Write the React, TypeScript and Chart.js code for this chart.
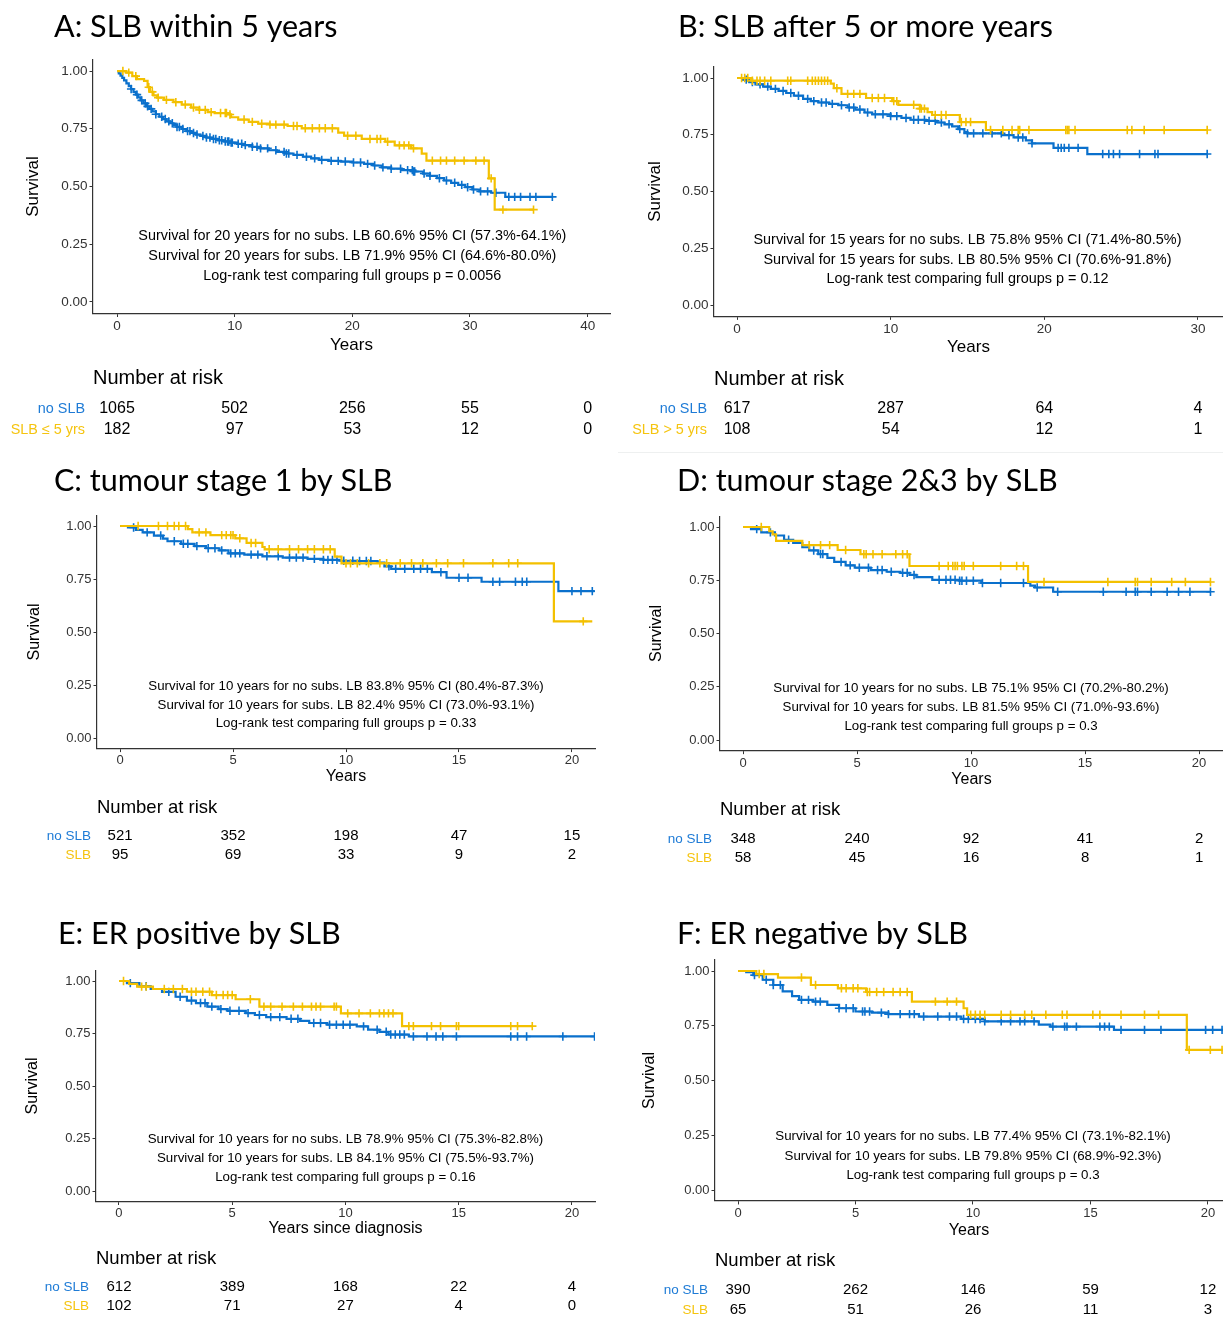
import React, { useEffect, useRef } from 'react';
import { Chart, registerables } from 'chart.js';
Chart.register(...registerables);

const BLUE = '#0A70CC';
const YELLOW = '#F3C000';
const BLUE_TXT = '#1E7BD6';
const YELLOW_TXT = '#F5C40F';

// ---------- Panel A ----------
const aTitle = 'A: SLB within 5 years';
const aTicks = [0, 10, 20, 30, 40];
const aNoTime = [0, 0.15, 0.3, 0.45, 0.6, 0.8, 1.0, 1.2, 1.4, 1.6, 1.8, 2.0, 2.25, 2.5, 2.75, 3.0, 3.3, 3.6, 3.9, 4.2, 4.5, 4.8, 5.1, 5.5, 5.9, 6.3, 6.7, 7.1, 7.6, 8.1, 8.6, 9.1, 9.6, 10.2, 10.8, 11.5, 12.2, 12.9, 13.6, 14.3, 15.0, 15.8, 16.5, 17.2, 18.0, 19.0, 20.0, 21.0, 21.8, 22.5, 23.3, 24.2, 25.2, 26.0, 26.6, 27.2, 27.8, 28.4, 29.0, 29.6, 30.2, 30.8, 31.8, 33.0, 37.0];
const aNoSurv = [1, 0.99, 0.98, 0.97, 0.96, 0.947, 0.935, 0.922, 0.91, 0.898, 0.886, 0.873, 0.86, 0.847, 0.836, 0.825, 0.813, 0.802, 0.792, 0.782, 0.774, 0.766, 0.758, 0.749, 0.74, 0.732, 0.725, 0.719, 0.712, 0.706, 0.7, 0.695, 0.69, 0.685, 0.679, 0.672, 0.665, 0.657, 0.65, 0.643, 0.637, 0.629, 0.622, 0.615, 0.611, 0.608, 0.604, 0.598, 0.591, 0.583, 0.577, 0.571, 0.565, 0.556, 0.546, 0.536, 0.526, 0.516, 0.507, 0.497, 0.487, 0.479, 0.473, 0.455, 0.455];
const aNoCens = [1.2, 1.7, 2.1, 2.4, 2.6, 2.9, 3.3, 3.8, 4.1, 4.4, 4.7, 5.1, 5.3, 5.6, 6.0, 6.2, 6.5, 6.8, 7.3, 7.6, 7.9, 8.2, 8.4, 8.7, 8.9, 9.2, 9.4, 9.5, 9.7, 9.8, 10.3, 10.6, 10.9, 11.5, 11.9, 12.2, 12.8, 13.5, 14.2, 14.4, 14.6, 15.3, 16.1, 16.8, 17.4, 18.2, 18.8, 19.4, 20.1, 20.7, 21.3, 21.9, 22.6, 23.3, 24.1, 24.7, 25.1, 25.2, 25.3, 26.1, 26.6, 27.4, 28.0, 28.7, 29.3, 29.8, 30.3, 30.9, 31.5, 32.2, 33.3, 33.8, 34.3, 35.1, 35.6, 37.0];
const aSlbTime = [0, 0.8, 1.3, 1.7, 2.3, 2.6, 2.8, 3.1, 3.4, 4.0, 4.8, 5.5, 6.3, 7.0, 7.7, 8.3, 9.4, 9.7, 10.3, 11.2, 12.0, 13.0, 14.5, 15.7, 18.8, 19.3, 20.8, 22.8, 23.6, 25.0, 25.9, 26.3, 31.6, 32.1, 35.4];
const aSlbSurv = [1, 0.993, 0.978, 0.965, 0.957, 0.93, 0.91, 0.895, 0.885, 0.875, 0.865, 0.855, 0.842, 0.832, 0.822, 0.818, 0.812, 0.8, 0.79, 0.78, 0.772, 0.768, 0.762, 0.752, 0.733, 0.72, 0.706, 0.694, 0.678, 0.665, 0.642, 0.612, 0.535, 0.4, 0.4];
const aSlbCens = [0.5, 1.0, 1.6, 2.7, 3.0, 3.5, 4.2, 5.0, 5.8, 6.5, 7.0, 7.5, 8.0, 8.8, 9.2, 9.3, 9.6, 10.8, 11.5, 12.3, 13.0, 13.5, 14.2, 15.0, 15.3, 16.0, 16.6, 17.2, 17.7, 18.3, 19.6, 20.3, 21.5, 22.1, 22.4, 23.0, 24.0, 24.4, 24.8, 25.2, 26.8, 27.5, 28.0, 28.7, 29.5, 30.5, 31.2, 31.8, 32.8, 35.4];
const aRiskNo = [1065, 502, 256, 55, 0];
const aRiskSlb = [182, 97, 53, 12, 0];
const aLabels = ['no SLB', 'SLB ≤ 5 yrs'];
const aNotes = [
  'Survival for 20 years for no subs. LB 60.6% 95% CI (57.3%-64.1%)',
  'Survival for 20 years for subs. LB 71.9% 95% CI (64.6%-80.0%)',
  'Log-rank test comparing full groups p = 0.0056',
];

// ---------- Panel B ----------
const bTitle = 'B: SLB after 5 or more years';
const bTicks = [0, 10, 20, 30];
const bNoTime = [0, 0.4, 0.8, 1.2, 1.7, 2.2, 2.7, 3.2, 3.7, 4.3, 4.8, 5.3, 6.0, 6.6, 7.2, 7.7, 8.3, 8.8, 10.0, 10.7, 11.3, 12.3, 13.0, 13.5, 14.0, 14.4, 14.8, 15.0, 17.3, 18.0, 18.8, 19.2, 20.6, 22.8, 30.6];
const bNoSurv = [1, 0.993, 0.982, 0.972, 0.962, 0.952, 0.943, 0.934, 0.922, 0.908, 0.898, 0.892, 0.886, 0.88, 0.87, 0.861, 0.848, 0.84, 0.832, 0.824, 0.816, 0.811, 0.804, 0.796, 0.787, 0.775, 0.762, 0.756, 0.748, 0.738, 0.725, 0.712, 0.692, 0.665, 0.665];
const bNoCens = [0.6, 1.0, 1.5, 2.0, 2.5, 3.0, 3.5, 4.0, 4.6, 5.0, 5.5, 5.8, 6.2, 6.8, 7.3, 7.6, 8.0, 8.5, 9.0, 9.5, 10.0, 10.4, 11.0, 11.5, 11.8, 12.2, 12.5, 12.9, 13.3, 13.8, 14.5, 15.0, 15.4, 16.0, 16.6, 17.2, 17.7, 18.3, 18.6, 19.2, 20.9, 21.1, 21.3, 21.6, 22.2, 23.8, 24.2, 24.5, 24.9, 26.2, 27.2, 27.4, 30.6];
const bSlbTime = [0, 0.9, 6.1, 6.3, 6.8, 8.4, 10.1, 10.5, 11.9, 12.4, 12.7, 14.5, 16.2, 30.6];
const bSlbSurv = [1, 0.988, 0.975, 0.955, 0.93, 0.912, 0.898, 0.882, 0.865, 0.85, 0.837, 0.806, 0.771, 0.771];
const bSlbCens = [0.3, 0.5, 0.7, 1.0, 1.3, 1.5, 1.8, 2.2, 3.3, 3.5, 4.6, 4.9, 5.1, 5.3, 5.5, 5.7, 5.9, 6.5, 7.2, 7.6, 8.0, 8.8, 9.2, 9.6, 10.2, 10.4, 11.5, 11.9, 12.0, 12.2, 12.9, 13.3, 13.6, 14.6, 14.9, 15.2, 16.5, 17.3, 17.9, 18.3, 18.4, 19.0, 21.4, 21.5, 21.6, 22.0, 25.4, 25.7, 26.5, 27.8, 30.6];
const bRiskNo = [617, 287, 64, 4];
const bRiskSlb = [108, 54, 12, 1];
const bLabels = ['no SLB', 'SLB > 5 yrs'];
const bNotes = [
  'Survival for 15 years for no subs. LB 75.8% 95% CI (71.4%-80.5%)',
  'Survival for 15 years for subs. LB 80.5% 95% CI (70.6%-91.8%)',
  'Log-rank test comparing full groups p = 0.12',
];

// ---------- Panel C ----------
const cTitle = 'C: tumour stage 1 by SLB';
const cTicks = [0, 5, 10, 15, 20];
const cNoTime = [0, 0.35, 0.7, 1.0, 1.5, 1.9, 2.1, 2.7, 3.3, 3.8, 4.4, 4.8, 5.5, 6.3, 7.2, 8.3, 9.0, 9.7, 10.5, 11.4, 11.7, 12.0, 13.8, 14.45, 16.0, 19.4, 21.0];
const cNoSurv = [1, 0.993, 0.982, 0.97, 0.955, 0.94, 0.928, 0.916, 0.905, 0.895, 0.885, 0.871, 0.865, 0.857, 0.851, 0.845, 0.84, 0.836, 0.835, 0.827, 0.81, 0.798, 0.782, 0.756, 0.737, 0.693, 0.693];
const cNoCens = [0.6, 1.2, 1.8, 2.4, 2.8, 3.0, 3.4, 3.9, 4.2, 4.5, 4.9, 5.1, 5.3, 5.8, 6.1, 6.5, 7.0, 7.5, 7.8, 8.1, 8.6, 9.0, 9.2, 9.4, 9.6, 9.9, 10.3, 10.6, 10.9, 11.1, 11.9, 12.2, 12.6, 13.0, 13.3, 13.6, 14.2, 15.0, 15.4, 16.5, 16.8, 17.5, 17.8, 18.0, 20.0, 20.4, 20.9];
const cSlbTime = [0, 3.0, 3.2, 4.0, 5.1, 5.6, 6.3, 6.4, 9.5, 9.8, 19.2, 20.9];
const cSlbSurv = [1, 0.985, 0.97, 0.957, 0.942, 0.92, 0.901, 0.89, 0.856, 0.824, 0.55, 0.55];
const cSlbCens = [0.8, 1.7, 2.1, 2.4, 2.6, 2.9, 3.5, 3.8, 4.5, 4.7, 4.9, 5.0, 5.3, 5.8, 6.0, 6.6, 7.0, 7.5, 7.9, 8.3, 8.6, 9.0, 9.3, 10.0, 10.2, 10.5, 11.0, 11.5, 11.8, 12.4, 12.9, 13.4, 14.0, 14.5, 15.2, 16.5, 17.2, 17.6, 20.5];
const cRiskNo = [521, 352, 198, 47, 15];
const cRiskSlb = [95, 69, 33, 9, 2];
const cLabels = ['no SLB', 'SLB'];
const cNotes = [
  'Survival for 10 years for no subs. LB 83.8% 95% CI (80.4%-87.3%)',
  'Survival for 10 years for subs. LB 82.4% 95% CI (73.0%-93.1%)',
  'Log-rank test comparing full groups p = 0.33',
];

// ---------- Panel D ----------
const dTitle = 'D: tumour stage 2&3 by SLB';
const dTicks = [0, 5, 10, 15, 20];
const dNoTime = [0, 0.35, 0.8, 1.4, 1.8, 2.2, 2.6, 2.9, 3.3, 3.7, 4.0, 4.5, 4.9, 5.6, 6.3, 6.9, 7.3, 7.6, 8.3, 9.5, 10.45, 12.6, 12.8, 13.6, 20.5];
const dNoSurv = [1, 0.99, 0.975, 0.96, 0.94, 0.925, 0.905, 0.89, 0.873, 0.855, 0.836, 0.82, 0.809, 0.798, 0.79, 0.785, 0.775, 0.765, 0.752, 0.748, 0.737, 0.725, 0.716, 0.696, 0.696];
const dNoCens = [0.6, 1.2, 2.0, 3.1, 3.4, 3.5, 4.3, 4.7, 5.1, 5.5, 5.9, 6.1, 6.5, 7.0, 7.2, 7.5, 8.6, 8.9, 9.1, 9.3, 9.5, 9.6, 9.8, 10.1, 10.5, 11.3, 12.3, 12.9, 13.8, 15.8, 16.8, 17.2, 17.3, 17.9, 18.6, 19.1, 19.6, 20.5];
const dSlbTime = [0, 1.15, 1.3, 1.45, 2.6, 4.15, 5.15, 7.3, 12.5, 20.5];
const dSlbSurv = [1, 0.98, 0.965, 0.935, 0.915, 0.892, 0.872, 0.817, 0.742, 0.742];
const dSlbCens = [0.8, 2.9, 3.4, 3.8, 4.5, 5.3, 5.4, 5.7, 6.1, 6.7, 7.0, 7.2, 8.6, 9.0, 9.2, 9.3, 9.4, 9.6, 9.7, 10.1, 11.3, 12.0, 12.3, 13.2, 16.0, 17.2, 17.3, 17.9, 18.8, 19.4, 20.5];
const dRiskNo = [348, 240, 92, 41, 2];
const dRiskSlb = [58, 45, 16, 8, 1];
const dLabels = ['no SLB', 'SLB'];
const dNotes = [
  'Survival for 10 years for no subs. LB 75.1% 95% CI (70.2%-80.2%)',
  'Survival for 10 years for subs. LB 81.5% 95% CI (71.0%-93.6%)',
  'Log-rank test comparing full groups p = 0.3',
];

// ---------- Panel E ----------
const eTitle = 'E: ER positive by SLB';
const eTicks = [0, 5, 10, 15, 20];
const eNoTime = [0, 0.35, 0.9, 1.4, 1.9, 2.5, 3.0, 3.4, 3.9, 4.4, 4.8, 5.6, 6.0, 6.5, 7.4, 8.0, 8.4, 9.2, 10.5, 11.0, 11.5, 11.9, 12.8, 21.0];
const eNoSurv = [1, 0.99, 0.975, 0.962, 0.948, 0.925, 0.907, 0.895, 0.878, 0.866, 0.858, 0.847, 0.838, 0.828, 0.82, 0.81, 0.8, 0.792, 0.784, 0.768, 0.758, 0.745, 0.736, 0.736];
const eNoCens = [0.5, 1.2, 2.2, 2.7, 3.2, 3.6, 3.8, 4.1, 4.5, 4.9, 5.3, 5.7, 6.2, 6.7, 7.1, 7.6, 7.9, 8.6, 8.9, 9.3, 9.6, 9.9, 10.2, 10.8, 11.4, 11.8, 12.0, 12.2, 12.4, 12.6, 13.0, 13.6, 14.0, 14.3, 14.9, 17.3, 17.6, 18.0, 19.6, 21.0];
const eSlbTime = [0, 0.45, 0.8, 1.5, 3.0, 4.1, 5.15, 6.2, 9.8, 12.5, 18.25];
const eSlbSurv = [1, 0.986, 0.973, 0.962, 0.949, 0.933, 0.913, 0.878, 0.846, 0.785, 0.785];
const eSlbCens = [0.2, 1.0, 1.2, 2.0, 2.4, 2.8, 3.2, 3.4, 3.7, 4.0, 4.3, 4.6, 4.8, 5.0, 5.8, 6.4, 6.7, 7.2, 7.7, 8.1, 8.5, 8.7, 8.9, 9.5, 9.6, 10.1, 10.6, 11.1, 11.5, 11.7, 11.9, 12.1, 12.8, 13.0, 13.8, 14.2, 14.9, 15.0, 17.3, 17.6, 18.25];
const eRiskNo = [612, 389, 168, 22, 4];
const eRiskSlb = [102, 71, 27, 4, 0];
const eLabels = ['no SLB', 'SLB'];
const eNotes = [
  'Survival for 10 years for no subs. LB 78.9% 95% CI (75.3%-82.8%)',
  'Survival for 10 years for subs. LB 84.1% 95% CI (75.5%-93.7%)',
  'Log-rank test comparing full groups p = 0.16',
];

// ---------- Panel F ----------
const fTitle = 'F: ER negative by SLB';
const fTicks = [0, 5, 10, 15, 20];
const fNoTime = [0, 0.35, 0.65, 1.05, 1.5, 1.9, 2.3, 2.6, 3.2, 3.8, 4.3, 5.0, 5.7, 6.4, 7.7, 9.5, 10.5, 12.8, 13.3, 16.0, 21.0];
const fNoSurv = [1, 0.995, 0.981, 0.96, 0.936, 0.907, 0.885, 0.868, 0.86, 0.845, 0.83, 0.815, 0.81, 0.803, 0.792, 0.781, 0.77, 0.755, 0.746, 0.731, 0.731];
const fNoCens = [0.7, 1.2, 1.5, 1.8, 2.7, 3.0, 3.3, 3.5, 4.3, 4.6, 4.9, 5.3, 5.4, 5.6, 6.1, 6.4, 6.9, 7.3, 7.5, 7.9, 8.5, 9.0, 9.3, 9.6, 9.8, 10.1, 10.3, 10.5, 11.2, 11.6, 12.0, 12.2, 12.6, 13.4, 13.9, 14.0, 14.4, 15.4, 15.6, 15.8, 16.3, 17.3, 18.0, 19.1, 19.9, 20.2, 20.6];
const fSlbTime = [0, 0.78, 1.7, 3.1, 4.25, 5.45, 7.4, 9.6, 9.75, 19.1, 21.0];
const fSlbSurv = [1, 0.986, 0.97, 0.936, 0.921, 0.904, 0.86, 0.83, 0.8, 0.64, 0.64];
const fSlbCens = [0.9, 1.1, 2.7, 3.3, 4.4, 4.6, 4.9, 5.1, 5.5, 5.6, 5.9, 6.2, 6.6, 6.9, 7.2, 8.4, 8.9, 9.3, 9.9, 10.1, 10.3, 10.5, 11.2, 11.6, 12.2, 12.5, 13.1, 13.8, 14.0, 15.1, 15.4, 16.3, 17.3, 17.9, 19.2, 20.1, 20.6];
const fRiskNo = [390, 262, 146, 59, 12];
const fRiskSlb = [65, 51, 26, 11, 3];
const fLabels = ['no SLB', 'SLB'];
const fNotes = [
  'Survival for 10 years for no subs. LB 77.4% 95% CI (73.1%-82.1%)',
  'Survival for 10 years for subs. LB 79.8% 95% CI (68.9%-92.3%)',
  'Log-rank test comparing full groups p = 0.3',
];

// ---------- layout (positions / sizes) ----------
const BIG = { note: 14.4, axis: 17, nar: 20, num: 16, lab: 14.4, tick: 13.5 };
const SMALL = { note: 13.3, axis: 16, nar: 18.5, num: 15, lab: 13.5, tick: 13 };

const PANELS = [
  { title: aTitle, xTitle: 'Years', ticks: aTicks, no: [aNoTime, aNoSurv, aNoCens], slb: [aSlbTime, aSlbSurv, aSlbCens], risk: [aRiskNo, aRiskSlb], labels: aLabels, notes: aNotes,
    box: { left: 93, right: 610, top: 59.5, bottom: 313.5, xMin: -2.04, xMax: 41.9, titleX: 54, titleY: 37, survX: 33, xTitleY: 345, narY: 378, rowY: [409, 430], labelRight: 85, noteX: 20, noteY: 0.2, noteGap: 20, f: BIG } },
  { title: bTitle, xTitle: 'Years', ticks: bTicks, no: [bNoTime, bNoSurv, bNoCens], slb: [bSlbTime, bSlbSurv, bSlbCens], risk: [bRiskNo, bRiskSlb], labels: bLabels, notes: bNotes,
    box: { left: 714, right: 1223, top: 66.65, bottom: 316.35, xMin: -1.497, xMax: 31.63, titleX: 678, titleY: 37, survX: 655, xTitleY: 347, narY: 379, rowY: [409, 430], labelRight: 707, noteX: 15, noteY: 0.2, noteGap: 19.5, f: BIG } },
  { title: cTitle, xTitle: 'Years', ticks: cTicks, no: [cNoTime, cNoSurv, cNoCens], slb: [cSlbTime, cSlbSurv, cSlbCens], risk: [cRiskNo, cRiskSlb], labels: cLabels, notes: cNotes,
    box: { left: 97, right: 595, top: 515.4, bottom: 748.6, xMin: -1.02, xMax: 21.02, titleX: 54, titleY: 491, survX: 35, xTitleY: 777, narY: 808, rowY: [836, 855], labelRight: 91, noteX: 10, noteY: 0.155, noteGap: 18.5, f: SMALL } },
  { title: dTitle, xTitle: 'Years', ticks: dTicks, no: [dNoTime, dNoSurv, dNoCens], slb: [dSlbTime, dSlbSurv, dSlbCens], risk: [dRiskNo, dRiskSlb], labels: dLabels, notes: dNotes,
    box: { left: 720, right: 1223, top: 516.35, bottom: 750.65, xMin: -1.01, xMax: 21.05, titleX: 677, titleY: 491, survX: 657, xTitleY: 780, narY: 810, rowY: [839, 858], labelRight: 712, noteX: 10, noteY: 0.155, noteGap: 19, f: SMALL } },
  { title: eTitle, xTitle: 'Years since diagnosis', ticks: eTicks, no: [eNoTime, eNoSurv, eNoCens], slb: [eSlbTime, eSlbSurv, eSlbCens], risk: [eRiskNo, eRiskSlb], labels: eLabels, notes: eNotes,
    box: { left: 96, right: 595, top: 970.5, bottom: 1201.5, xMin: -1.015, xMax: 21.02, titleX: 58, titleY: 944, survX: 33, xTitleY: 1229, narY: 1259, rowY: [1287, 1306], labelRight: 89, noteX: 10, noteY: 0.157, noteGap: 19, f: SMALL } },
  { title: fTitle, xTitle: 'Years', ticks: fTicks, no: [fNoTime, fNoSurv, fNoCens], slb: [fSlbTime, fSlbSurv, fSlbCens], risk: [fRiskNo, fRiskSlb], labels: fLabels, notes: fNotes,
    box: { left: 715, right: 1223, top: 960.05, bottom: 1200.95, xMin: -0.98, xMax: 20.64, titleX: 677, titleY: 944, survX: 650, xTitleY: 1231, narY: 1261, rowY: [1290, 1310], labelRight: 708, noteX: 10, noteY: 0.155, noteGap: 19.5, f: SMALL } },
];

const PAGE_W = 1223;
const PAGE_H = 1318;
const Y_AXIS_W = 60;
const X_AXIS_H = 30;
const SANS = '"Liberation Sans", Arial, sans-serif';

function survAt(times: number[], surv: number[], t: number) {
  let s = surv[0];
  for (let i = 0; i < times.length; i++) if (times[i] <= t) s = surv[i];
  return s;
}

function KMPanel({ p }: { p: any }) {
  const ref = useRef<HTMLCanvasElement | null>(null);
  useEffect(() => {
    const b = p.box;
    const f = b.f;
    const steps = (t: number[], s: number[]) => t.map((x, i) => ({ x, y: s[i] }));
    const cens = (t: number[], s: number[], c: number[]) => c.map((x) => ({ x, y: survAt(t, s, x) }));
    const lineDs = (d: any[], color: string) => ({
      type: 'line', data: d, borderColor: color, borderWidth: 2.2, stepped: 'before', pointRadius: 0, fill: false,
    });
    const censDs = (d: any[], color: string) => ({
      type: 'scatter', data: d, pointStyle: 'cross', pointRadius: 4.2, pointBorderColor: color, borderColor: color,
      pointBorderWidth: 1.6, showLine: false,
    });
    const textPlugin = {
      id: 'kmText',
      afterDraw(chart: any) {
        const ctx = chart.ctx;
        const xs = chart.scales.x;
        const ys = chart.scales.y;
        ctx.save();
        ctx.fillStyle = '#000';
        ctx.font = '30.5px Lato';
        ctx.textAlign = 'left';
        ctx.textBaseline = 'alphabetic';
        ctx.fillText(p.title, b.titleX, b.titleY);

        ctx.font = `${f.axis}px ${SANS}`;
        ctx.save();
        ctx.translate(b.survX, ys.getPixelForValue(0.5));
        ctx.rotate(-Math.PI / 2);
        ctx.textAlign = 'center';
        ctx.textBaseline = 'middle';
        ctx.fillText('Survival', 0, 0);
        ctx.restore();

        ctx.textAlign = 'center';
        ctx.textBaseline = 'middle';
        ctx.fillText(p.xTitle, (xs.left + xs.right) / 2, b.xTitleY);

        ctx.font = `${f.note}px ${SANS}`;
        const nx = xs.getPixelForValue(b.noteX);
        const ny = ys.getPixelForValue(b.noteY);
        p.notes.forEach((s: string, i: number) => ctx.fillText(s, nx, ny + (i - 1) * b.noteGap));

        ctx.textAlign = 'left';
        ctx.font = `${f.nar}px ${SANS}`;
        ctx.fillText('Number at risk', xs.left, b.narY);

        [0, 1].forEach((r) => {
          ctx.textAlign = 'right';
          ctx.font = `${f.lab}px ${SANS}`;
          ctx.fillStyle = r === 0 ? BLUE_TXT : YELLOW_TXT;
          ctx.fillText(p.labels[r], b.labelRight, b.rowY[r]);
          ctx.textAlign = 'center';
          ctx.font = `${f.num}px ${SANS}`;
          ctx.fillStyle = '#000';
          p.risk[r].forEach((n: number, i: number) =>
            ctx.fillText(String(n), xs.getPixelForValue(p.ticks[i]), b.rowY[r]));
        });
        ctx.restore();
      },
    };
    const axisCommon = {
      type: 'linear',
      grid: { drawOnChartArea: false, drawTicks: true, tickLength: 3.5, color: '#333', lineWidth: 1 },
      border: { display: true, color: '#333', width: 1.2 },
    };
    const chart = new Chart(ref.current as HTMLCanvasElement, {
      type: 'line',
      data: {
        datasets: [
          censDs(cens(p.slb[0], p.slb[1], p.slb[2]), YELLOW),
          lineDs(steps(p.slb[0], p.slb[1]), YELLOW),
          censDs(cens(p.no[0], p.no[1], p.no[2]), BLUE),
          lineDs(steps(p.no[0], p.no[1]), BLUE),
        ] as any,
      },
      options: {
        responsive: false,
        animation: false,
        events: [],
        layout: {
          autoPadding: false,
          padding: {
            left: b.left - Y_AXIS_W,
            right: PAGE_W - b.right,
            top: b.top,
            bottom: PAGE_H - b.bottom - X_AXIS_H,
          },
        },
        plugins: { legend: { display: false }, tooltip: { enabled: false }, title: { display: false } },
        scales: {
          x: {
            ...axisCommon,
            min: b.xMin,
            max: b.xMax,
            afterBuildTicks: (s: any) => { s.ticks = p.ticks.map((v: number) => ({ value: v })); },
            afterFit: (s: any) => { s.height = X_AXIS_H; },
            ticks: { font: { family: SANS, size: f.tick }, color: '#333', padding: 1, maxRotation: 0, autoSkip: false, callback: (v: any) => String(v) },
          },
          y: {
            ...axisCommon,
            min: -0.05,
            max: 1.05,
            afterBuildTicks: (s: any) => { s.ticks = [0, 0.25, 0.5, 0.75, 1].map((v) => ({ value: v })); },
            afterFit: (s: any) => { s.width = Y_AXIS_W; },
            ticks: { font: { family: SANS, size: f.tick }, color: '#333', padding: 2, autoSkip: false, callback: (v: any) => Number(v).toFixed(2) },
          },
        },
      } as any,
      plugins: [textPlugin],
    });
    return () => chart.destroy();
  }, [p]);
  return (
    <canvas
      ref={ref}
      width={PAGE_W}
      height={PAGE_H}
      style={{ position: 'absolute', left: 0, top: 0, width: PAGE_W, height: PAGE_H }}
    />
  );
}

export default function App() {
  return (
    <div style={{ position: 'absolute', left: 0, top: 0, width: PAGE_W, height: PAGE_H, background: '#fff', overflow: 'hidden' }}>
      <div style={{ position: 'absolute', left: 618, top: 452, width: 605, height: 0, borderTop: '1px solid #eef0f0' }} />
      {PANELS.map((p, i) => <KMPanel key={i} p={p} />)}
    </div>
  );
}
